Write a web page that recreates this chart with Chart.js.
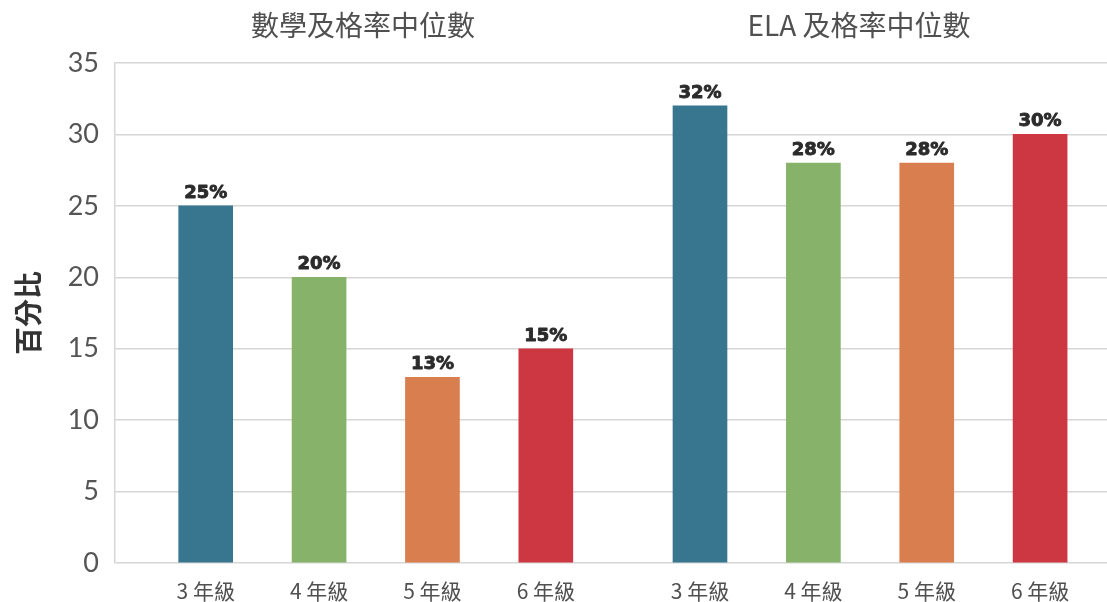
<!DOCTYPE html>
<html lang="zh-Hant">
<head>
<meta charset="utf-8">
<title>及格率中位數</title>
<script src="https://cdn.jsdelivr.net/npm/chart.js@4.4.1/dist/chart.umd.min.js"></script>
<style>
  html, body { margin: 0; padding: 0; background: #fff; }
  #wrap { width: 1107px; height: 602px; position: relative; }
</style>
</head>
<body>
<div id="wrap"><canvas id="chart"></canvas></div>
<script>
const grades = ['3 年級', '4 年級', '5 年級', '6 年級'];
const mathMedian = [25, 20, 13, 15];
const elaMedian = [32, 28, 28, 30];
const groupTitles = ['數學及格率中位數', 'ELA 及格率中位數'];
const gradeColors = ['#38758e', '#86b26a', '#d97f4f', '#cc3742'];
const yAxisTitle = '百分比';
const yMax = 35;
const yStep = 5;

// extra space (in bar slots) between the two groups
const groupGap = 0.36;

const cjkFont = '"Noto Sans CJK TC", "Noto Sans", sans-serif';
const numFont = 'Lato, "Open Sans", sans-serif';
const labelFont = '"DejaVu Sans", sans-serif';

const xPositions = [
  ...mathMedian.map((_, i) => i),
  ...elaMedian.map((_, i) => i + grades.length + groupGap),
];
const values = [...mathMedian, ...elaMedian];
const points = values.map((v, i) => ({ x: xPositions[i], y: v }));
const barColors = values.map((_, i) => gradeColors[i % grades.length]);

function labelFor(value) {
  const idx = xPositions.findIndex((p) => Math.abs(p - value) < 1e-6);
  return idx >= 0 ? grades[idx % grades.length] : '';
}

// percentage above each bar, stroked a little to look heavier
const valueLabels = {
  id: 'valueLabels',
  afterDatasetsDraw(chart) {
    const { ctx } = chart;
    const meta = chart.getDatasetMeta(0);
    ctx.save();
    ctx.font = `bold 18px ${labelFont}`;
    ctx.fillStyle = '#2b2b2b';
    ctx.strokeStyle = '#2b2b2b';
    ctx.lineWidth = 0.9;
    ctx.lineJoin = 'round';
    ctx.textAlign = 'center';
    ctx.textBaseline = 'alphabetic';
    meta.data.forEach((bar, i) => {
      const text = `${values[i]}%`;
      ctx.strokeText(text, bar.x, bar.y - 8);
      ctx.fillText(text, bar.x, bar.y - 8);
    });
    ctx.restore();
  },
};

const groupHeaders = {
  id: 'groupHeaders',
  afterDraw(chart) {
    const { ctx, chartArea } = chart;
    const width = chartArea.right - chartArea.left;
    ctx.save();
    ctx.font = `28px ${cjkFont}`;
    ctx.fillStyle = '#505050';
    ctx.textAlign = 'center';
    ctx.textBaseline = 'middle';
    groupTitles.forEach((title, i) => {
      ctx.fillText(title, chartArea.left + width * (0.25 + 0.5 * i), 25);
    });
    ctx.restore();
  },
};

new Chart(document.getElementById('chart'), {
  type: 'bar',
  data: {
    datasets: [
      {
        data: points,
        backgroundColor: barColors,
        borderWidth: 0,
        barThickness: 54,
      },
    ],
  },
  options: {
    responsive: true,
    maintainAspectRatio: false,
    animation: false,
    layout: { padding: { top: 63, right: 0, left: 0, bottom: 0 } },
    plugins: {
      legend: { display: false },
      tooltip: { enabled: false },
    },
    scales: {
      x: {
        type: 'linear',
        offset: false,
        min: -0.8,
        max: 7.95,
        grid: { display: false, drawTicks: false },
        border: { display: false },
        afterBuildTicks(scale) {
          scale.ticks = xPositions.map((value) => ({ value }));
        },
        afterFit(scale) {
          scale.height = 39;
        },
        ticks: {
          autoSkip: false,
          maxRotation: 0,
          padding: 15,
          color: '#505050',
          font: { family: cjkFont, size: 21 },
          callback: (value) => labelFor(value),
        },
      },
      y: {
        min: 0,
        max: yMax,
        grid: { color: '#d6d6d6', lineWidth: 1.5, drawTicks: false },
        border: { display: true, color: '#d6d6d6', width: 1.5 },
        afterFit(scale) {
          scale.width = 115;
        },
        ticks: {
          stepSize: yStep,
          padding: 16,
          color: '#555555',
          font: { family: numFont, size: 27 },
        },
        title: {
          display: true,
          text: yAxisTitle,
          color: '#333333',
          font: { family: cjkFont, size: 28, weight: 'bold' },
          padding: { top: 12, bottom: 0 },
        },
      },
    },
  },
  plugins: [valueLabels, groupHeaders],
});
</script>
</body>
</html>
